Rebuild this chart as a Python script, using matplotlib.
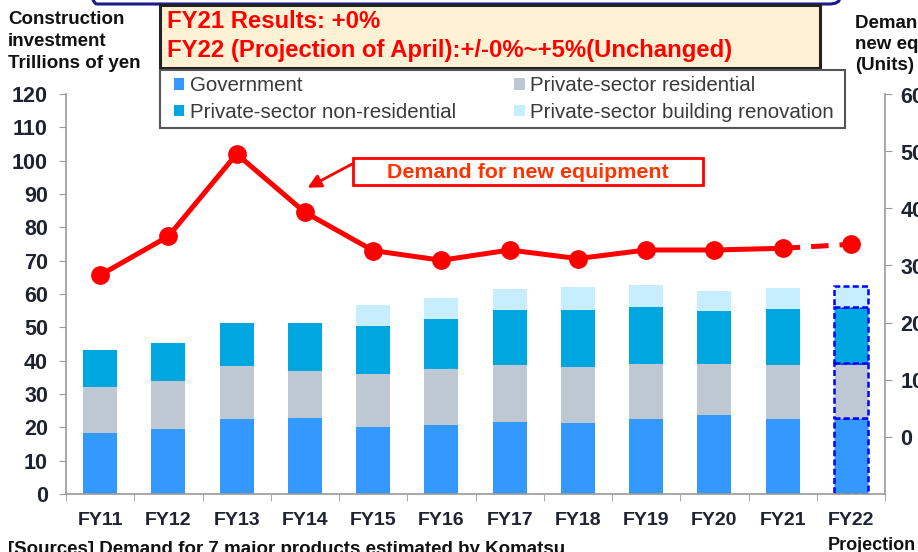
import matplotlib
matplotlib.use("Agg")
import matplotlib.pyplot as plt
from matplotlib.patches import Patch, FancyBboxPatch, FancyArrowPatch
import numpy as np

plt.rcParams['font.family'] = ['Liberation Sans', 'DejaVu Sans']

# data
years = ["FY11", "FY12", "FY13", "FY14", "FY15", "FY16", "FY17", "FY18", "FY19", "FY20", "FY21", "FY22"]
government = [18.4, 19.6, 22.4, 22.8, 20.2, 20.8, 21.6, 21.3, 22.5, 23.7, 22.5, 22.7]
residential = [13.6, 14.2, 15.9, 14.2, 15.7, 16.7, 17.1, 16.8, 16.5, 15.3, 16.2, 16.5]
non_residential = [11.2, 11.4, 13.1, 14.2, 14.5, 15.1, 16.4, 17.2, 17.2, 16.0, 16.9, 17.0]
renovation = [0, 0, 0, 0, 6.3, 6.2, 6.4, 6.7, 6.6, 6.0, 6.3, 6.2]
demand_units = [28300, 35100, 49500, 39300, 32600, 30900, 32700, 31200, 32700, 32700, 33000, 33700]

series = [
    ("Government", government, "#3399FF"),
    ("Private-sector residential", residential, "#BDC8D3"),
    ("Private-sector non-residential", non_residential, "#00A6E0"),
    ("Private-sector building renovation", renovation, "#C6EEFF"),
]

W, H = 918, 552
fig = plt.figure(figsize=(W / 100, H / 100), dpi=100)
ax = fig.add_axes([66 / W, 1 - 494 / H, 819 / W, 400 / H])

x = np.arange(len(years))
tick_col = "#1F2230"
axis_col = "#9A9A9A"

bottom = np.zeros(len(years))
for name, vals, col in series:
    vals = np.array(vals, dtype=float)
    ax.bar(x[:-1], vals[:-1], 0.5, bottom=bottom[:-1], color=col, edgecolor="none")
    # projection bar with dashed outline
    if vals[-1] > 0:
        ax.bar(x[-1], vals[-1], 0.5, bottom=bottom[-1], color=col, edgecolor="#0000FF",
               linewidth=1.8, linestyle=(0, (2.4, 1.3)))
    bottom += vals

ax.set_xlim(-0.5, len(years) - 0.5)
ax.set_ylim(0, 120)
ax.set_yticks(range(0, 121, 10))
ax.set_xticks(x)
ax.set_xticklabels(years)
ax.set_xticks(np.arange(-0.5, len(years), 1), minor=True)
ax.tick_params(axis="x", which="major", length=0, pad=13, labelsize=14, labelcolor=tick_col)
ax.tick_params(axis="x", which="minor", length=5, color=axis_col, direction="out")
ax.tick_params(axis="y", length=5, color=axis_col, labelsize=15.5, labelcolor=tick_col, pad=8)
for lab in ax.get_xticklabels() + ax.get_yticklabels():
    lab.set_fontweight("bold")
for s in ["top", "right"]:
    ax.spines[s].set_visible(False)
for s in ["left", "bottom"]:
    ax.spines[s].set_color(axis_col)
    ax.spines[s].set_linewidth(1.2)

# demand line on the right axis
ax2 = ax.twinx()
ax2.plot(x[:-1], demand_units[:-1], color="#FF0000", lw=3.6, marker="o", markersize=12.5,
         solid_joinstyle="round")
ax2.plot(x[-2:], demand_units[-2:], color="#FF0000", lw=3.6, linestyle=(0, (3.5, 2.2)))
ax2.plot(x[-1], demand_units[-1], color="#FF0000", marker="o", markersize=12.5)
ax2.set_ylim(-10000, 60000)
ax2.set_yticks(range(0, 60001, 10000))
ax2.set_yticklabels([f"{v:,}" for v in range(0, 60001, 10000)], fontweight="bold")
ax2.tick_params(axis="y", length=5, color=axis_col, labelsize=15.5, labelcolor=tick_col, pad=6)
for s in ["top", "left", "bottom"]:
    ax2.spines[s].set_visible(False)
ax2.spines["right"].set_color(axis_col)
ax2.spines["right"].set_linewidth(1.2)

# axis titles
fig.text(8 / W, 1 - 11 / H, "Construction\ninvestment\nTrillions of yen", ha="left", va="top",
         fontsize=13.5, fontweight="bold", color="#111111", linespacing=1.38)
fig.text(855 / W, 1 - 15 / H, "Demand for\nnew equipment\n(Units)", ha="left", va="top",
         fontsize=13.5, fontweight="bold", color="#111111", linespacing=1.3)

# navy frame at top
fig.patches.append(FancyBboxPatch((86 / W, 1 - 4 / H), 754 / W, 0.2, boxstyle="round,pad=0,rounding_size=0.012",
                                  transform=fig.transFigure, facecolor="none", edgecolor="#1A1A8C", lw=2.2))

# headline box
fig.patches.append(plt.Rectangle((160 / W, 1 - 68 / H), 660 / W, 63 / H, transform=fig.transFigure,
                                 facecolor="#FFF1D3", edgecolor="#222222", lw=2.2))
fig.text(167 / W, 1 - 21 / H, "FY21 Results: +0%", ha="left", va="center",
         fontsize=17.2, fontweight="bold", color="#FF0000")
fig.text(167 / W, 1 - 50 / H, "FY22 (Projection of April):+/-0%~+5%(Unchanged)", ha="left", va="center",
         fontsize=17.2, fontweight="bold", color="#FF0000")

# legend (frame drawn separately)
fig.patches.append(plt.Rectangle((160 / W, 1 - 128 / H), 685 / W, 58 / H, transform=fig.transFigure,
                                 facecolor="white", edgecolor="#555555", lw=1.5))
handles = [Patch(facecolor=c, edgecolor="none") for _, _, c in series]
labels = [n for n, _, _ in series]
order = [0, 2, 1, 3]
leg = fig.legend([handles[i] for i in order], [labels[i] for i in order], ncol=2,
                 loc="upper left", bbox_to_anchor=(170 / W, 1 - 72 / H),
                 frameon=False, fontsize=14.8, handlelength=0.5, handleheight=0.5,
                 handletextpad=0.25, borderpad=0.2, labelspacing=0.38, columnspacing=2.85,
                 borderaxespad=0)
for t in leg.get_texts():
    t.set_color("#3A3A3A")

# annotation for the line
fig.patches.append(plt.Rectangle((353 / W, 1 - 185 / H), 350 / W, 27 / H, transform=fig.transFigure,
                                 facecolor="white", edgecolor="#FF0000", lw=2))
fig.text(528 / W, 1 - 172 / H, "Demand for new equipment", ha="center", va="center",
         fontsize=15.4, fontweight="bold", color="#FF3300")
fig.patches.append(FancyArrowPatch((354 / W, 1 - 163 / H), (305 / W, 1 - 189 / H), transform=fig.transFigure,
                                   arrowstyle="-|>", mutation_scale=20, color="#FF0000", lw=2))

# footer texts
fig.text(8 / W, 1 - 549 / H, "[Sources] Demand for 7 major products estimated by Komatsu", ha="left",
         va="center", fontsize=13.5, fontweight="bold", color="#111111")
fig.text(828 / W, 1 - 545 / H, "Projection", ha="left", va="center",
         fontsize=13, fontweight="bold", color="#111111")

fig.savefig("out.png", dpi=100)
